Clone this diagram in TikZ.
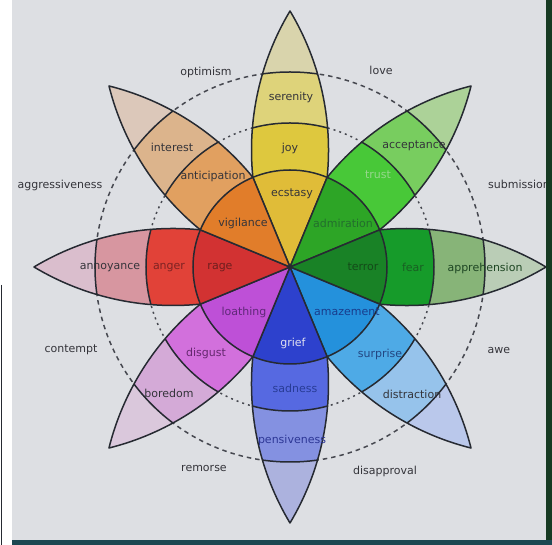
\documentclass[tikz,border=0pt]{standalone}
\usepackage{fontspec}
\setmainfont{DejaVu Sans}
\definecolor{bg}{RGB}{221,223,227}
\definecolor{frameR}{RGB}{22,58,34}
\definecolor{frameB}{RGB}{28,72,82}
\definecolor{edgec}{RGB}{38,42,50}
\definecolor{dashc}{RGB}{70,72,80}
\definecolor{txt}{RGB}{52,52,58}
% joy
\definecolor{joyT}{RGB}{217,212,172}
\definecolor{joyC}{RGB}{222,211,122}
\definecolor{joyB}{RGB}{222,200,62}
\definecolor{joyA}{RGB}{224,188,56}
% trust
\definecolor{truT}{RGB}{172,210,152}
\definecolor{truC}{RGB}{120,205,95}
\definecolor{truB}{RGB}{72,200,56}
\definecolor{truA}{RGB}{45,165,38}
% fear
\definecolor{feaT}{RGB}{186,205,182}
\definecolor{feaC}{RGB}{135,180,120}
\definecolor{feaB}{RGB}{22,155,42}
\definecolor{feaA}{RGB}{25,130,38}
% surprise
\definecolor{surT}{RGB}{186,200,235}
\definecolor{surC}{RGB}{150,195,235}
\definecolor{surB}{RGB}{78,170,230}
\definecolor{surA}{RGB}{36,145,220}
% sadness
\definecolor{sadT}{RGB}{172,178,222}
\definecolor{sadC}{RGB}{132,145,225}
\definecolor{sadB}{RGB}{86,105,225}
\definecolor{sadA}{RGB}{45,65,205}
% disgust
\definecolor{disT}{RGB}{218,200,220}
\definecolor{disC}{RGB}{212,170,215}
\definecolor{disB}{RGB}{210,112,220}
\definecolor{disA}{RGB}{190,80,215}
% anger
\definecolor{angT}{RGB}{218,190,205}
\definecolor{angC}{RGB}{215,150,160}
\definecolor{angB}{RGB}{225,66,56}
\definecolor{angA}{RGB}{210,50,50}
% anticipation
\definecolor{antT}{RGB}{220,200,186}
\definecolor{antC}{RGB}{220,180,140}
\definecolor{antB}{RGB}{225,160,96}
\definecolor{antA}{RGB}{225,125,42}
\tikzset{
  lbl/.style={font=\fontsize{11}{13}\selectfont, text=txt, inner sep=0pt},
  edge/.style={draw=edgec, line width=1.5pt, line join=round},
  ringline/.style={draw=edgec, line width=1.5pt},
  outerdash/.style={draw=dashc, line width=1.5pt, dash pattern=on 4.5pt off 4pt},
  innerdash/.style={draw=dashc, line width=1.5pt, dash pattern=on 2pt off 4pt},
}
\newcommand\drawpetal[5]{%
\begin{scope}[rotate=#1]
  \begin{scope}
    \clip (0,0) -- (22.5:97) arc[start angle=95.79, end angle=59.05, radius=270.5]
          arc[start angle=-59.05, end angle=-95.79, radius=270.5] -- cycle;
    \fill[#2] (-300,-300) rectangle (300,300);
    \fill[#3] (0,0) circle[radius=195];
    \fill[#4] (0,0) circle[radius=144];
    \fill[#5] (0,0) circle[radius=97];
    \path[ringline] (0,0) circle[radius=195] (0,0) circle[radius=144] (0,0) circle[radius=97];
  \end{scope}
  \path[edge] (0,0) -- (22.5:97) arc[start angle=95.79, end angle=59.05, radius=270.5]
        arc[start angle=-59.05, end angle=-95.79, radius=270.5] -- cycle;
\end{scope}}
\begin{document}
\begin{tikzpicture}[x=1pt, y=1pt]
  \useasboundingbox (-290,-278) rectangle (262,267);
  % screen background
  \fill[white] (-290,-278) rectangle (262,267);
  \fill[bg] (-278,-273) rectangle (256,267);
  \fill[frameB] (-278,-278) rectangle (262,-273);
  \draw[edgec, line width=1.5pt] (-288.5,-18) -- (-288.5,-278);
  % dashed circles
  \path[outerdash] (0,0) circle[radius=195];
  \path[innerdash] (0,0) circle[radius=144];
  % petals
  \drawpetal{90}{joyT}{joyC}{joyB}{joyA}
  \drawpetal{45}{truT}{truC}{truB}{truA}
  \drawpetal{0}{feaT}{feaC}{feaB}{feaA}
  \drawpetal{-45}{surT}{surC}{surB}{surA}
  \drawpetal{-90}{sadT}{sadC}{sadB}{sadA}
  \drawpetal{-135}{disT}{disC}{disB}{disA}
  \drawpetal{180}{angT}{angC}{angB}{angA}
  \drawpetal{135}{antT}{antC}{antB}{antA}
  % petal labels
  \node[lbl] (serenity) at (1,170) {serenity};
  \node[lbl] (joy) at (0,119) {joy};
  \node[lbl] (ecstasy) at (2,73) {ecstasy};
  \node[lbl] (interest) at (-118,120) {interest};
  \node[lbl] (anticipation) at (-77,91) {anticipation};
  \node[lbl] (vigilance) at (-47,44) {vigilance};
  \node[lbl] (acceptance) at (124,121) {acceptance};
  \node[lbl, text={rgb,255:red,150;green,215;blue,140}] (trust) at (88,92) {trust};
  \node[lbl, text={rgb,255:red,35;green,110;blue,45}] (admiration) at (53,44) {admiration};
  \node[lbl] (annoyance) at (-180,-1) {annoyance};
  \node[lbl, text={rgb,255:red,125;green,35;blue,35}] (anger) at (-121,-1) {anger};
  \node[lbl, text={rgb,255:red,110;green,30;blue,30}] (rage) at (-70,-1) {rage};
  \node[lbl, text={rgb,255:red,20;green,75;blue,25}] (terror) at (73,0) {terror};
  \node[lbl, text={rgb,255:red,25;green,95;blue,35}] (fear) at (123,0) {fear};
  \node[lbl, text={rgb,255:red,30;green,70;blue,35}] (apprehension) at (195,-1) {apprehension};
  \node[lbl, text={rgb,255:red,95;green,40;blue,120}] (loathing) at (-46,-45) {loathing};
  \node[lbl, text={rgb,255:red,100;green,40;blue,110}] (disgust) at (-84,-86) {disgust};
  \node[lbl] (boredom) at (-121,-126) {boredom};
  \node[lbl, text={rgb,255:red,25;green,60;blue,140}] (amazement) at (57,-45) {amazement};
  \node[lbl, text={rgb,255:red,35;green,70;blue,130}] (surprise) at (90,-87) {surprise};
  \node[lbl] (distraction) at (122,-127) {distraction};
  \node[lbl, text={rgb,255:red,225;green,225;blue,240}] (grief) at (3,-76) {grief};
  \node[lbl, text={rgb,255:red,40;green,60;blue,150}] (sadness) at (5,-121) {sadness};
  \node[lbl, text={rgb,255:red,45;green,55;blue,150}] (pensiveness) at (2,-173) {pensiveness};
  % dyad labels
  \node[lbl] (optimism) at (-84,195) {optimism};
  \node[lbl] (love) at (91,197) {love};
  \node[lbl] (aggressiveness) at (-230,82) {aggressiveness};
  \node[lbl, anchor=west] (submission) at (198,83) {submission};
  \node[lbl] (contempt) at (-219,-83) {contempt};
  \node[lbl] (awe) at (209,-84) {awe};
  \node[lbl] (remorse) at (-86,-202) {remorse};
  \node[lbl] (disapproval) at (95,-204) {disapproval};
  % right frame strip (covers end of "submission")
  \fill[frameR] (256,-273) rectangle (262,267);
\end{tikzpicture}
\end{document}
